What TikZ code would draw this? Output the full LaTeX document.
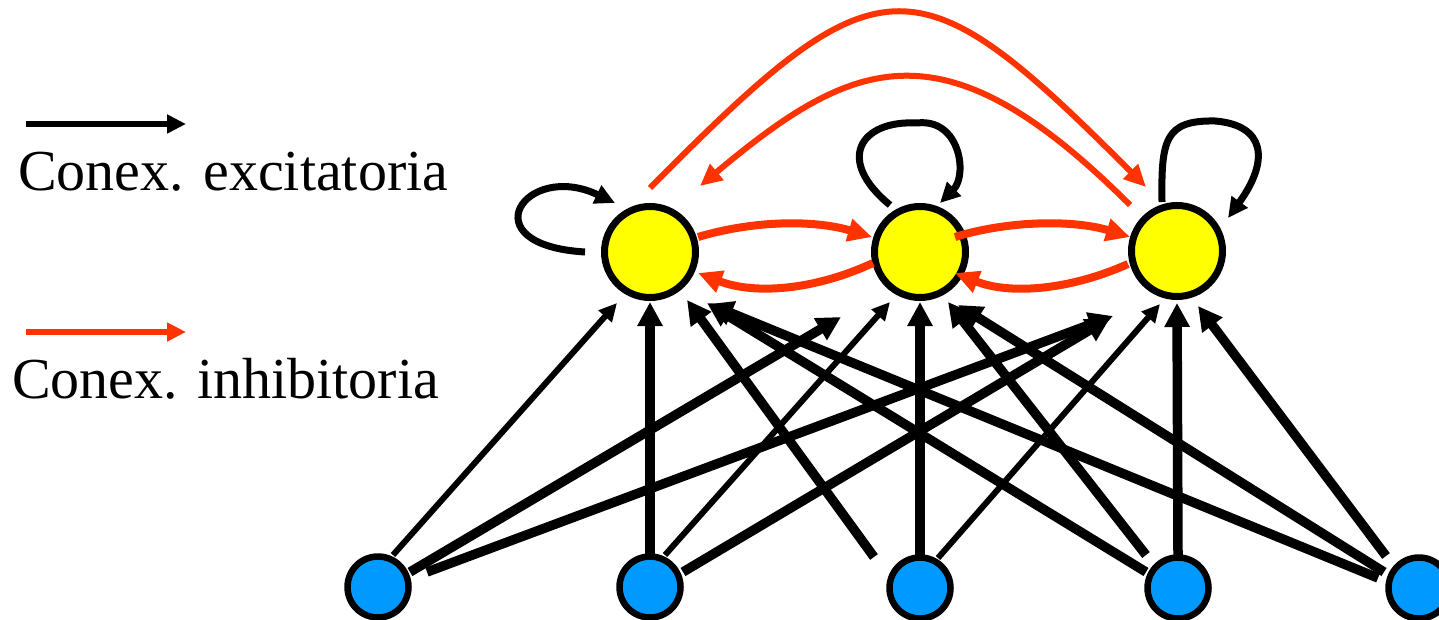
\documentclass[tikz,border=0pt]{standalone}
\usepackage{fontspec}
\setmainfont{Liberation Serif}
\usetikzlibrary{arrows.meta,calc}
\definecolor{inhib}{RGB}{255,51,0}
\definecolor{ynode}{RGB}{255,255,0}
\definecolor{bnode}{RGB}{0,153,255}
\begin{document}
\begin{tikzpicture}[x=1pt,y=-1pt,
  yel/.style={circle,draw=black,line width=7pt,fill=ynode,minimum size=91pt,inner sep=0pt},
  blu/.style={circle,draw=black,line width=6.5pt,fill=bnode,minimum size=61pt,inner sep=0pt},
  exthick/.style={line width=9.5pt,-{Triangle[length=24pt,width=24pt]}},
  exthin/.style={line width=6pt,-{Triangle[length=18pt,width=17pt]}},
  loopar/.style={line width=7pt,-{Triangle[length=20pt,width=19pt]}},
  inhnear/.style={color=inhib,line width=8pt,-{Triangle[length=24pt,width=22pt]}},
  inhfar/.style={color=inhib,line width=6pt,-{Triangle[length=22pt,width=20pt]}},
  legarrow/.style={line width=6.5pt,-{Triangle[length=19pt,width=18pt]}},
  legtext/.style={anchor=base west,inner sep=0pt,font=\fontsize{58}{70}\selectfont}
]
\useasboundingbox (0,0) rectangle (1439,620);
\clip (0,0) rectangle (1439,620);

% legend
\coordinate (lk1) at (26,124);
\coordinate (lk2) at (186,124);
\draw[legarrow] (lk1) -- (lk2);
\node[legtext] (tk) at (18,191) {Conex. excitatoria};
\coordinate (li1) at (26,332);
\coordinate (li2) at (186,332);
\draw[legarrow,color=inhib] (li1) -- (li2);
\node[legtext] (ti) at (12,398) {Conex. inhibitoria};

% nodes
\node[yel] (y1) at (650,252) {};
\node[yel] (y2) at (920,252) {};
\node[yel] (y3) at (1177,251) {};
\node[blu] (b1) at (378,587) {};
\node[blu] (b2) at (650,587) {};
\node[blu] (b3) at (920,588) {};
\node[blu] (b4) at (1178,588) {};
\node[blu] (b5) at (1419,588) {};

% excitatory feed-forward connections
\draw[exthin]  ($(b1)+(15,-32)$) -- ($(y1)+(-33,51)$);
\draw[exthick] ($(b1)+(32,-15)$) -- ($(y2)+(-79,65)$);
\draw[exthick] ($(b1)+(49,-15)$) -- ($(y3)+(-64,65)$);
\draw[exthick] ($(b2)+(0,-32)$) -- ($(y1)+(0,50)$);
\draw[exthin]  ($(b2)+(15,-32)$) -- ($(y2)+(-30,50)$);
\draw[exthick] ($(b2)+(33,-15)$) -- ($(y3)+(-67,67)$);
\draw[exthick] ($(b3)+(-46,-31)$) -- ($(y1)+(37,48)$);
\draw[exthick] ($(b3)+(0,-33)$) -- ($(y2)+(0,50)$);
\draw[exthin]  ($(b3)+(18,-30)$) -- ($(y3)+(-17,53)$);
\draw[exthick] ($(b4)+(-32,-16)$) -- ($(y1)+(57,51)$);
\draw[exthick] ($(b4)+(-32,-33)$) -- ($(y2)+(28,50)$);
\draw[exthick] ($(b4)+(0,-33)$) -- ($(y3)+(0,52)$);
\draw[exthick] ($(b5)+(-41,-10)$) -- ($(y1)+(59,52)$);
\draw[exthick] ($(b5)+(-35,-16)$) -- ($(y2)+(38,53)$);
\draw[exthick] ($(b5)+(-33,-32)$) -- ($(y3)+(21,55)$);

% self loops
\draw[loopar] ($(y1)+(-65,0)$) .. controls (468,245) and (525,160) .. ($(y1)+(-35,-49)$);
\draw[loopar] ($(y2)+(-30,-47)$) .. controls (835,160) and (860,120) .. (917,123)
   .. controls (960,118) and (968,175) .. ($(y2)+(20,-49)$);
\draw[loopar] ($(y3)+(-15,-49)$) .. controls (1161,140) and (1165,120) .. (1215,121)
   .. controls (1265,125) and (1270,160) .. ($(y3)+(51,-33)$);

% inhibitory lateral connections
\draw[inhnear] ($(y1)+(48,-15)$) .. controls (755,220) and (815,220) .. ($(y2)+(-48,-15)$);
\draw[inhnear] ($(y2)+(-47,11)$) .. controls (815,290) and (755,295) .. ($(y1)+(48,21)$);
\draw[inhnear] ($(y2)+(35,-15)$) .. controls (1010,220) and (1075,220) .. ($(y3)+(-47,-14)$);
\draw[inhnear] ($(y3)+(-49,13)$) .. controls (1070,290) and (1010,295) .. ($(y2)+(35,21)$);
\draw[inhfar] ($(y1)+(0,-64)$) .. controls (880,-45) and (915,-45) .. ($(y3)+(-31,-64)$);
\draw[inhfar] ($(y3)+(-47,-46)$) .. controls (944,19) and (854,57) .. ($(y1)+(50,-66)$);
\end{tikzpicture}
\end{document}
